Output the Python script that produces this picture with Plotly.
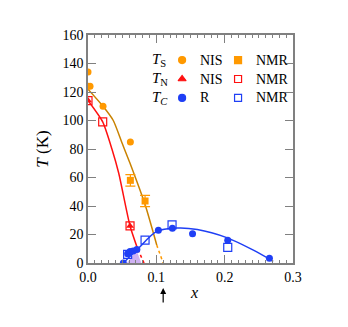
import plotly.graph_objects as go

# ---- data ----
# T_S (structural)
ts_nis_x = [0.0, 0.0, 0.003, 0.022, 0.062]
ts_nis_y = [134, 124, 124, 110, 85]
ts_nmr_x = [0.062, 0.0835]
ts_nmr_y = [58, 43.5]
ts_nmr_err = [4, 4]
ts_line_x = [0.0, 0.022, 0.037, 0.05, 0.0615, 0.0835, 0.1006]
ts_line_y = [122, 110, 100, 84, 70, 41, 12.6]
ts_dash_x = [0.1006, 0.11]
ts_dash_y = [12.6, 0]

# T_N (magnetic)
tn_nis_x = [0.0, 0.0615]
tn_nis_y = [114, 26]
tn_nmr_x = [0.0, 0.0215, 0.0615]
tn_nmr_y = [114, 99, 26]
tn_line_x = [0.0, 0.0215, 0.035, 0.045, 0.0615, 0.073]
tn_line_y = [114, 99, 80, 63, 26, 9.5]
tn_dot_x = [0.073, 0.082]
tn_dot_y = [9.5, 0]

# T_C (superconducting)
tc_r_x = [0.0517, 0.058, 0.0615, 0.066, 0.0715, 0.103, 0.1235, 0.153, 0.2045, 0.2655]
tc_r_y = [0, 6.5, 8, 8.5, 9.5, 23, 24.3, 20.5, 16, 3.3]
tc_nmr_x = [0.058, 0.0835, 0.123, 0.2045]
tc_nmr_y = [6, 16, 26.7, 11]
tc_line_x = [0.0517, 0.0727, 0.1, 0.13, 0.16, 0.203, 0.242, 0.271]
tc_line_y = [0, 9.8, 22, 24.5, 23.5, 17.8, 9, 1.2]

# coexistence region
coex_x = [0.057, 0.071, 0.078]
coex_y = [0, 9, 0]

ORANGE = '#ff9900'
ORANGE_LINE = '#c98200'
RED = '#ff1010'
BLUE = '#1f3ff5'
GREY = '#808080'
FONT = 'Liberation Serif, Times New Roman, serif'

fig = go.Figure()

fig.add_trace(go.Scatter(x=coex_x, y=coex_y, fill='toself', mode='none',
                         fillcolor='rgba(175,125,235,0.6)'))

# lines
fig.add_trace(go.Scatter(x=ts_line_x, y=ts_line_y, mode='lines',
                         line=dict(color=ORANGE_LINE, width=1.5, shape='spline', smoothing=0.6)))
fig.add_trace(go.Scatter(x=ts_dash_x, y=ts_dash_y, mode='lines',
                         line=dict(color=ORANGE, width=1.5, dash='3px,3px')))
fig.add_trace(go.Scatter(x=tn_line_x, y=tn_line_y, mode='lines',
                         line=dict(color=RED, width=1.5, shape='spline', smoothing=0.6)))
fig.add_trace(go.Scatter(x=tn_dot_x, y=tn_dot_y, mode='lines',
                         line=dict(color=RED, width=1.5, dash='dot')))
fig.add_trace(go.Scatter(x=tc_line_x, y=tc_line_y, mode='lines',
                         line=dict(color=BLUE, width=1.5, shape='spline', smoothing=0.8)))

# markers
fig.add_trace(go.Scatter(x=ts_nis_x, y=ts_nis_y, mode='markers',
                         marker=dict(symbol='circle', size=7, color=ORANGE)))
fig.add_trace(go.Scatter(x=ts_nmr_x, y=ts_nmr_y, mode='markers',
                         error_y=dict(type='data', array=ts_nmr_err, color=ORANGE, thickness=1.2, width=5),
                         marker=dict(symbol='square', size=7, color=ORANGE)))
fig.add_trace(go.Scatter(x=tn_nmr_x, y=tn_nmr_y, mode='markers',
                         marker=dict(symbol='square-open', size=8, color=RED, line=dict(width=1.2))))
fig.add_trace(go.Scatter(x=tn_nis_x, y=tn_nis_y, mode='markers',
                         marker=dict(symbol='triangle-up', size=7, color=RED)))
fig.add_trace(go.Scatter(x=tc_nmr_x, y=tc_nmr_y, mode='markers',
                         marker=dict(symbol='square-open', size=8, color=BLUE, line=dict(width=1.2))))
fig.add_trace(go.Scatter(x=tc_r_x, y=tc_r_y, mode='markers',
                         marker=dict(symbol='circle', size=7, color=BLUE)))

# legend key markers on an overlay axis spanning the plot area (0..1)
key_x = [0.459, 0.459, 0.459, 0.732, 0.732, 0.732]
key_y = [0.890, 0.807, 0.724, 0.890, 0.807, 0.724]
key_sym = ['circle', 'triangle-up', 'circle', 'square', 'square-open', 'square-open']
key_col = [ORANGE, RED, BLUE, ORANGE, RED, BLUE]
fig.add_trace(go.Scatter(x=key_x, y=key_y, mode='markers', xaxis='x2', yaxis='y2',
                         marker=dict(symbol=key_sym, size=7, color=key_col,
                                     line=dict(width=1.2, color=key_col))))

rows = [('<i>T</i><sub>S</sub>', 'NIS', 'NMR', 0.890),
        ('<i>T</i><sub>N</sub>', 'NIS', 'NMR', 0.807),
        ('<i>T</i><sub><i>C</i></sub>', 'R', 'NMR', 0.724)]
ann = []
for lab, a, b, yy in rows:
    ann.append(dict(x=0.30, y=yy, xref='paper', yref='paper', text=lab, showarrow=False,
                    xanchor='left', yanchor='middle', font=dict(size=15)))
    ann.append(dict(x=0.535, y=yy, xref='paper', yref='paper', text=a, showarrow=False,
                    xanchor='left', yanchor='middle', font=dict(size=14)))
    ann.append(dict(x=0.81, y=yy, xref='paper', yref='paper', text=b, showarrow=False,
                    xanchor='left', yanchor='middle', font=dict(size=14)))

# arrow marking x = 0.11
ann.append(dict(x=0.11, y=-0.11, xref='x', yref='paper', text='', showarrow=True,
                ax=0, ay=16, arrowhead=2, arrowsize=1, arrowwidth=1.2, arrowcolor='black'))
ann.append(dict(x=0.515, y=-0.13, xref='paper', yref='paper', text='<i>x</i>', showarrow=False,
                xanchor='center', yanchor='middle', font=dict(size=16)))

axis_common = dict(showline=True, linecolor=GREY, linewidth=1.5, mirror='ticks',
                   ticks='inside', tickcolor=GREY, tickwidth=1.2, ticklen=8,
                   showgrid=False, zeroline=False, automargin=False,
                   tickfont=dict(size=14, color='black', family=FONT))

# page body has an 8px margin, so the plot box is placed 8px up/left of the target
fig.update_layout(
    width=348, height=327,
    margin=dict(l=80, r=63, t=27, b=72),
    paper_bgcolor='white', plot_bgcolor='white',
    showlegend=False,
    font=dict(family=FONT, color='black'),
    xaxis=dict(range=[0, 0.3], dtick=0.1, tickformat='.1f',
               minor=dict(dtick=0.01, ticks='inside', ticklen=3, tickcolor=GREY, tickwidth=1),
               **axis_common),
    yaxis=dict(range=[0, 160], dtick=20,
               title=dict(text='<i>T</i> (K)', font=dict(size=17, family=FONT), standoff=10),
               **axis_common),
    xaxis2=dict(range=[0, 1], overlaying='x', visible=False),
    yaxis2=dict(range=[0, 1], overlaying='y', visible=False),
    annotations=ann,
)

fig.write_html("out.html")
